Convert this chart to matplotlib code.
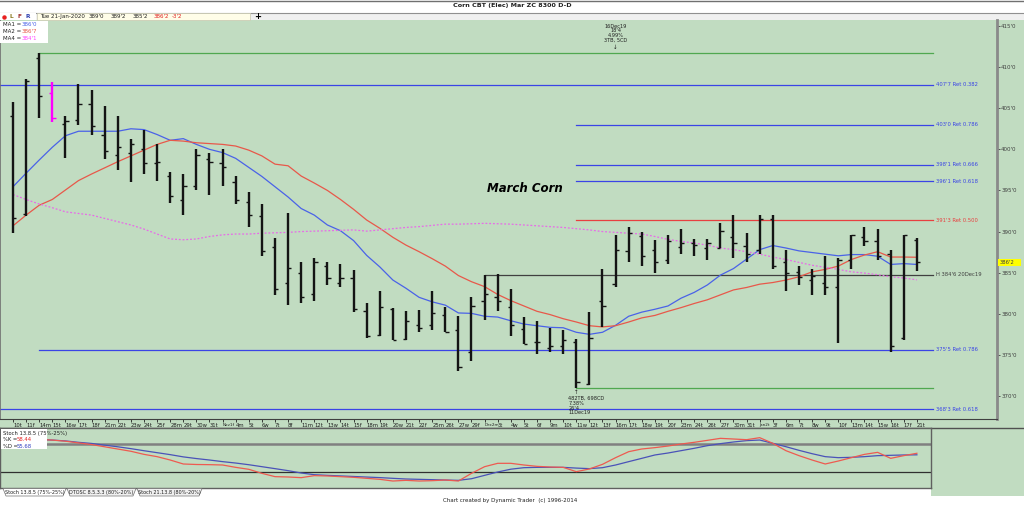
import matplotlib
matplotlib.use("Agg")
import matplotlib.pyplot as plt
from matplotlib.patches import Rectangle, Polygon
import numpy as np

plt.rcParams['font.family'] = ['DejaVu Sans']

W, H = 1024, 505

# ---- data (prices in cents, eighths as decimals) ----
dates = ["10t", "11f", "14m", "15t", "16w", "17t", "18f", "21m", "22t", "23w", "24t", "25f",
         "28m", "29t", "30w", "31t",
         "Nov1f", "4m", "5t", "6w", "7t", "8f", "11m", "12t", "13w", "14t", "15f", "18m", "19t",
         "20w", "21t", "22f", "25m", "26t", "27w", "29f",
         "Dec2m", "3t", "4w", "5t", "6f", "9m", "10t", "11w", "12t", "13f", "16m", "17t", "18w",
         "19t", "20f", "23m", "24t", "26t", "27f", "30m", "31t",
         "Jan2t", "3f", "6m", "7t", "8w", "9t", "10f", "13m", "14t", "15w", "16t", "17f", "21t"]

opens = [404.1, 392.1, 411.1, 406.8, 403.1, 403.6, 405.5, 401.8, 399.3, 399.5, 400.1, 398.3,
         396.8, 393.8, 395.6, 398.8, 398.3, 396.0, 393.55, 391.85, 388.1, 383.8, 385.0, 382.35,
         385.8, 383.8, 384.3, 380.3, 377.4, 380.6, 376.9, 378.6, 378.6, 379.8, 378.05, 375.3,
         381.6, 382.1, 380.8, 378.1, 376.6, 375.8, 376.1, 376.6, 371.5, 381.6, 383.6, 387.6,
         389.45, 387.8, 386.6, 388.15, 388.6, 388.0, 388.0, 389.3, 388.3, 387.8, 391.55, 386.3,
         385.1, 384.1, 383.8, 383.3, 386.6, 389.3, 388.8, 387.3, 377.0, 389.0]
highs = [405.8, 408.5, 411.75, 408.2, 404.05, 408.0, 407.2, 405.3, 404.05, 401.3, 402.3, 400.6,
         397.3, 397.0, 400.1, 399.55, 400.1, 396.8, 394.8, 393.3, 389.25, 392.3, 386.25, 386.8,
         386.25, 386.0, 385.3, 381.3, 382.75, 380.7, 380.3, 380.5, 382.75, 380.8, 379.7, 382.0,
         384.75, 384.8, 383.0, 379.6, 379.15, 378.3, 378.0, 376.9, 380.25, 385.5, 389.6, 390.5,
         390.0, 389.0, 389.6, 390.3, 389.05, 389.05, 391.0, 392.0, 389.8, 392.0, 392.0, 387.8,
         385.8, 385.5, 387.0, 386.75, 389.6, 390.5, 390.3, 387.8, 389.6, 389.25]
lows = [389.8, 391.9, 403.8, 403.3, 399.0, 403.0, 401.7, 398.8, 397.5, 396.0, 397.0, 396.2,
        393.5, 392.0, 395.0, 394.5, 395.5, 393.3, 390.5, 387.0, 382.3, 381.05, 381.3, 381.55,
        383.5, 383.25, 380.25, 377.0, 377.3, 376.75, 376.75, 377.8, 378.0, 377.75, 373.0, 374.3,
        379.3, 380.3, 377.3, 376.3, 375.1, 375.3, 375.05, 371.0, 371.3, 378.4, 383.3, 386.3,
        385.8, 385.0, 386.0, 387.3, 387.0, 386.5, 387.95, 386.8, 386.25, 387.3, 385.5, 382.75,
        383.5, 382.3, 382.3, 376.5, 385.5, 388.3, 386.5, 375.3, 376.8, 385.25]
closes = [391.6, 408.3, 406.5, 403.8, 403.5, 405.5, 402.8, 399.8, 400.3, 400.6, 398.3, 398.5,
          394.3, 395.6, 399.3, 398.5, 397.85, 393.8, 392.05, 387.6, 383.0, 385.6, 382.1, 386.3,
          384.3, 384.3, 380.6, 377.3, 380.8, 376.8, 379.1, 378.3, 380.05, 377.8, 373.55, 381.0,
          382.35, 381.6, 378.6, 376.3, 376.6, 376.1, 376.8, 371.65, 377.05, 381.0, 387.8, 389.8,
          387.05, 386.3, 388.9, 388.6, 388.35, 388.6, 390.05, 388.6, 387.3, 391.55, 385.8, 385.0,
          384.5, 384.55, 383.3, 386.6, 389.55, 388.8, 387.0, 376.1, 389.6, 386.25]

ma1 = [395.45, 397.1, 398.7, 400.25, 401.65, 402.2, 402.2, 402.2, 402.2, 402.5, 402.4, 401.8,
       401.1, 401.3, 400.6, 400.0, 399.6, 398.9, 397.8, 396.7, 395.45, 394.2, 392.8, 392.0,
       390.8, 390.1, 388.9, 387.1, 385.7, 384.1, 383.1, 382.0, 381.45, 381.05, 380.1, 380.05,
       379.7, 379.6, 379.15, 378.75, 378.55, 378.35, 378.3, 377.75, 377.5, 377.75, 378.6, 379.7,
       380.2, 380.55, 380.95, 381.9, 382.6, 383.5, 384.7, 385.5, 386.65, 387.8, 388.3, 388.0,
       387.65, 387.45, 387.25, 387.05, 387.2, 387.2, 387.0, 386.0, 386.1, 386.0]
ma2 = [390.7, 392.0, 393.2, 393.9, 395.05, 396.2, 397.0, 397.75, 398.5, 399.2, 399.9, 400.6,
       401.1, 401.0, 400.8, 400.7, 400.6, 400.4, 399.9, 399.2, 398.2, 398.0, 396.75, 395.9,
       395.0, 393.9, 392.7, 391.4, 390.4, 389.3, 388.35, 387.55, 386.7, 385.8, 384.65, 383.9,
       383.3, 382.35, 381.6, 380.95, 380.3, 379.9, 379.4, 379.0, 378.55, 378.4, 378.55, 379.0,
       379.5, 379.8, 380.3, 380.75, 381.25, 381.7, 382.3, 382.9, 383.2, 383.6, 383.8, 384.1,
       384.5, 385.1, 385.4, 385.8, 386.6, 387.15, 387.55, 386.9, 386.9, 386.875]
ma4 = [394.5, 393.9, 393.35, 392.9, 392.4, 392.2, 392.0, 391.6, 391.2, 390.8, 390.3, 389.7,
       389.1, 389.0, 389.1, 389.4, 389.6, 389.7, 389.7, 389.8, 389.85, 389.9, 390.0, 390.05,
       390.1, 390.15, 390.2, 390.05, 390.2, 390.35, 390.5, 390.6, 390.75, 390.9, 390.9, 390.95,
       391.0, 390.95, 390.9, 390.8, 390.7, 390.6, 390.5, 390.35, 390.2, 390.0, 389.9, 389.8,
       389.7, 389.4, 389.05, 388.8, 388.6, 388.35, 388.0, 387.8, 387.55, 387.25, 386.9, 386.6,
       386.25, 385.9, 385.65, 385.4, 385.1, 384.95, 384.75, 384.5, 384.35, 384.125]

stoch_k = [85, 84, 83, 82, 80, 77, 74, 70, 66, 62, 56.5, 52.4, 46.4, 39.3, 38.4, 38.1, 37.5,
           33.3, 29.8, 22.6, 16.7, 16.1, 14.9, 18.5, 17.9, 16.7, 15.5, 13.7, 11.9, 8.9, 10.1,
           8.9, 9.5, 10.7, 8.9, 22.6, 34.5, 40.5, 40.5, 37.5, 35.1, 33.9, 33.3, 25.6, 30.4, 38.7,
           50.6, 61.3, 66.1, 68.5, 71.4, 75.0, 78.0, 81.5, 85.1, 83.9, 82.7, 86.3, 76.2, 63.1,
           54.2, 46.4, 39.3, 44.6, 50.6, 56.5, 60.1, 49.4, 54.2, 58.44]
stoch_d = [85, 84, 83, 82, 80.5, 78, 76, 73, 70, 66.7, 63, 59.5, 56, 52, 49, 46.4, 43.5, 41,
           38, 34.5, 31, 27.4, 23.2, 20.2, 19, 18, 17, 16, 15, 13.7, 12.5, 11.9, 11.3, 10.7,
           10.1, 13, 19, 25, 30, 32.7, 33.3, 33.3, 33.3, 32, 31, 32.7, 37.5, 43.5, 49.4, 55.4,
           58.9, 63.1, 67.3, 72, 75.6, 78.6, 81, 82.1, 76.2, 70.2, 63.7, 57.7, 52.4, 50.6, 51.2,
           52.4, 54.2, 54.8, 55.4, 55.68]

fib_levels = [411.75, 407.875, 403.0, 398.125, 396.125, 391.375, 384.75, 375.625, 371.0, 368.375]
fib_labels = ["", "407'7 Ret 0.382", "403'0 Ret 0.786", "398'1 Ret 0.666", "396'1 Ret 0.618",
              "391'3 Ret 0.500", "H 384'6 20Dec19", "375'5 Ret 0.786", "", "368'3 Ret 0.618"]
fib_start = [2, -1, 43, 43, 43, 43, 36, 2, 43, -1]
fib_colors = ["#50a850", "#3a44e6", "#3a44e6", "#3a44e6", "#3a44e6", "#e84040", "#404040",
              "#3a44e6", "#50a850", "#3a44e6"]

GREEN = "#c1dcc1"


def px(x0, y0, x1, y1):
    return [x0 / W, 1 - y1 / H, (x1 - x0) / W, (y1 - y0) / H]


fig = plt.figure(figsize=(W / 100, H / 100), dpi=100)
fig.patch.set_facecolor("white")

# background / chrome layer
bg = fig.add_axes([0, 0, 1, 1], zorder=0)
bg.set_xlim(0, W)
bg.set_ylim(H, 0)
bg.axis("off")
bg.add_patch(Rectangle((0, 20), W, 408, color=GREEN, lw=0))
bg.add_patch(Rectangle((931, 428), W - 931, 68, color=GREEN, lw=0))
bg.add_patch(Rectangle((0, 13), W, 7, color="#f0f0f0", lw=0))
bg.plot([0, W], [0.5, 0.5], color="#707070", lw=1)
bg.plot([0, W], [12.5, 12.5], color="#909090", lw=0.8)
bg.plot([0, W], [428, 428], color="#505050", lw=1)

# ---- main price panel ----
x0 = -13 / 13.1
xmax = (997 - 13) / 13.1
ppp = 8.222  # pixels per cent
ytop = 415 + (26 - 20) / ppp
ybot = 370 - (419 - 396) / ppp

ax = fig.add_axes(px(0, 20, 997, 419), zorder=1)
ax.set_facecolor(GREEN)
ax.set_xlim(x0, xmax)
ax.set_ylim(ybot, ytop)

n = len(dates)
x = np.arange(n)
bar_colors = ["#141414"] * n
bar_colors[3] = "#ff00ff"
ax.vlines(x, lows, highs, colors=bar_colors, lw=1.7, zorder=4)
ax.hlines(opens, x - 0.25, x, colors=bar_colors, lw=1.0, zorder=4)
ax.hlines(closes, x, x + 0.25, colors=bar_colors, lw=1.0, zorder=4)

ax.plot(x, ma1, color="#4a62e8", lw=0.9, zorder=3)
ax.plot(x, ma2, color="#e8584a", lw=0.9, zorder=3)
ax.plot(x, ma4, color="#e86ae8", lw=0.9, ls=(0, (1.5, 1.5)), zorder=3)

line_end = (933 - 13) / 13.1
for lvl, lab, st, c in zip(fib_levels, fib_labels, fib_start, fib_colors):
    xs = x0 if st < 0 else st
    ax.plot([xs, line_end], [lvl, lvl], color=c, lw=0.9, zorder=2)
    if lab:
        ax.text(line_end + 0.2, lvl, lab, color=c, fontsize=3.8, va="center", ha="left")

ax.text(36.2, 395.2, "March Corn", fontsize=8.5, fontweight="bold", style="italic",
        color="black", ha="left", va="center")

# swing annotations
ax.text(46.0, 415.3, "16Dec19\n18'4\n4.99%\n3TB, 5CD", fontsize=3.6, ha="center",
        va="top", linespacing=0.95, color="#202020")
ax.text(46.0, 411.75 + 0.35, "\u2193", fontsize=4, ha="center", va="bottom", color="#202020")
ax.text(43.0, 371.0 - 0.3, "\u2191", fontsize=4, ha="center", va="top", color="#202020")
ax.text(42.4, 370.0, "482TB, 698CD\n7.38%\n26'4\n11Dec19", fontsize=3.6, ha="left",
        va="top", linespacing=0.95, color="#202020")

# axes styling
ax.yaxis.tick_right()
yt = list(range(370, 416, 5))
ax.set_yticks(yt)
ax.set_yticklabels([f"{v}'0" for v in yt], fontsize=4, color="#404040")
ax.tick_params(axis="y", direction="out", length=2, pad=1, width=0.6, colors="#404040")
ax.set_xticks(x)
ax.set_xticklabels(dates, fontsize=3.8, ha="left", color="#202020")
ax.tick_params(axis="x", direction="out", length=2, pad=0.8, width=0.6, colors="#202020")
for lab in ax.get_xticklabels():
    lab.set_horizontalalignment("left")
    if lab.get_text()[:3] in ("Nov", "Dec", "Jan"):
        lab.set_fontsize(3.0)
ax.spines["top"].set_visible(False)
ax.spines["right"].set_color("#8a8a8a")
ax.spines["right"].set_linewidth(2)
ax.spines["left"].set_color("#707070")
ax.spines["left"].set_linewidth(1.2)
ax.spines["bottom"].set_color("#404040")
ax.spines["bottom"].set_linewidth(0.8)

# ---- stochastic panel ----
lo = fig.add_axes(px(0, 428, 931, 488), zorder=1)
lo.set_facecolor(GREEN)
lo.set_xlim(x0, (931 - 13) / 13.1)
lo.set_ylim(-3.57, 103.57)
lo.axhline(75, color="#808080", lw=1.8)
lo.axhline(25, color="#303030", lw=0.9)
lo.plot(x, stoch_d, color="#4a52b8", lw=0.9)
lo.plot(x, stoch_k, color="#ee5a50", lw=0.9)
lo.set_xticks([])
lo.set_yticks([])
for s in lo.spines.values():
    s.set_color("#606060")
    s.set_linewidth(1)

# ---- overlay texts / legends ----
top = fig.add_axes([0, 0, 1, 1], zorder=5)
top.set_xlim(0, W)
top.set_ylim(H, 0)
top.axis("off")
top.patch.set_alpha(0)

top.text(512, 6, "Corn CBT (Elec) Mar ZC 8300 D-D", fontsize=4.6, fontweight="bold",
         ha="center", va="center", color="#202020")

# status bar
top.add_patch(Rectangle((0, 13), 36, 7, color="white", lw=0))
top.plot([4], [16.5], marker="o", ms=2.2, color="#e82020", mec="#e82020")
top.text(9, 16.6, "L", fontsize=4.2, color="#8a7a20", fontweight="bold", va="center")
top.text(18, 16.6, "F", fontsize=4.2, color="#a03030", fontweight="bold", va="center")
top.text(26, 16.6, "R", fontsize=4.2, color="#3040b0", fontweight="bold", va="center")
top.add_patch(Rectangle((37, 13.3), 213, 6.6, facecolor="#fffde8", edgecolor="#c8c8b0", lw=0.5))
info = [(40, "Tue 21-Jan-2020", "#202020"), (89, "389'0", "#202020"), (111, "389'2", "#202020"),
        (133, "385'2", "#202020"), (154, "386'2", "#e02020"), (172, "-3'2", "#e02020")]
for xx, t, c in info:
    top.text(xx, 16.7, t, fontsize=4, color=c, va="center", ha="left")
top.text(258, 16.6, "+", fontsize=6, fontweight="bold", ha="center", va="center", color="black")

# MA legend
top.add_patch(Rectangle((0, 20.5), 48, 22.5, color="white", lw=0))
for i, (lab, val, c) in enumerate([("MA1 =", "386'0", "#4a62e8"), ("MA2 =", "386'7", "#e8584a"),
                                   ("MA4 =", "384'1", "#ff44ff")]):
    yy = 24.5 + i * 7
    top.text(3, yy, lab, fontsize=4, color="#202020", va="center")
    top.text(22, yy, val, fontsize=4, color=c, va="center")

# current price box
top.add_patch(Rectangle((998, 258.5), 23, 7.5, color="#ffff00", lw=0))
top.text(1000, 262.3, "386'2", fontsize=3.8, color="#404040", va="center")

# stoch legend
top.add_patch(Rectangle((0.5, 429), 46, 20, color="white", lw=0))
top.text(3, 433, "Stoch 13.8.5 (75%-25%)", fontsize=3.8, color="#202020", va="center")
top.text(3, 439.5, "%K =", fontsize=3.8, color="#202020", va="center")
top.text(17, 439.5, "58.44", fontsize=3.8, color="#e82020", va="center")
top.text(3, 446, "%D =", fontsize=3.8, color="#202020", va="center")
top.text(17, 446, "55.68", fontsize=3.8, color="#3040c0", va="center")

# tabs
tabs = [(3, 66, "Stoch 13.8.5 (75%-25%)", "white"), (67, 136, "DTOSC 8.5.3.3 (80%-20%)", "#f0f0f0"),
        (137, 202, "Stoch 21.13.8 (80%-20%)", "#f0f0f0")]
for a, b, t, fc in tabs:
    top.add_patch(Polygon([[a, 488.5], [b, 488.5], [b - 3, 496], [a + 3, 496]], closed=True,
                          facecolor=fc, edgecolor="#707070", lw=0.5))
    top.text((a + b) / 2, 492.3, t, fontsize=3.5, ha="center", va="center", color="#202020")

top.text(510, 500.5, "Chart created by Dynamic Trader  (c) 1996-2014", fontsize=4, ha="center",
         va="center", color="#202020")

fig.savefig("out.png", dpi=100, facecolor=fig.get_facecolor())
